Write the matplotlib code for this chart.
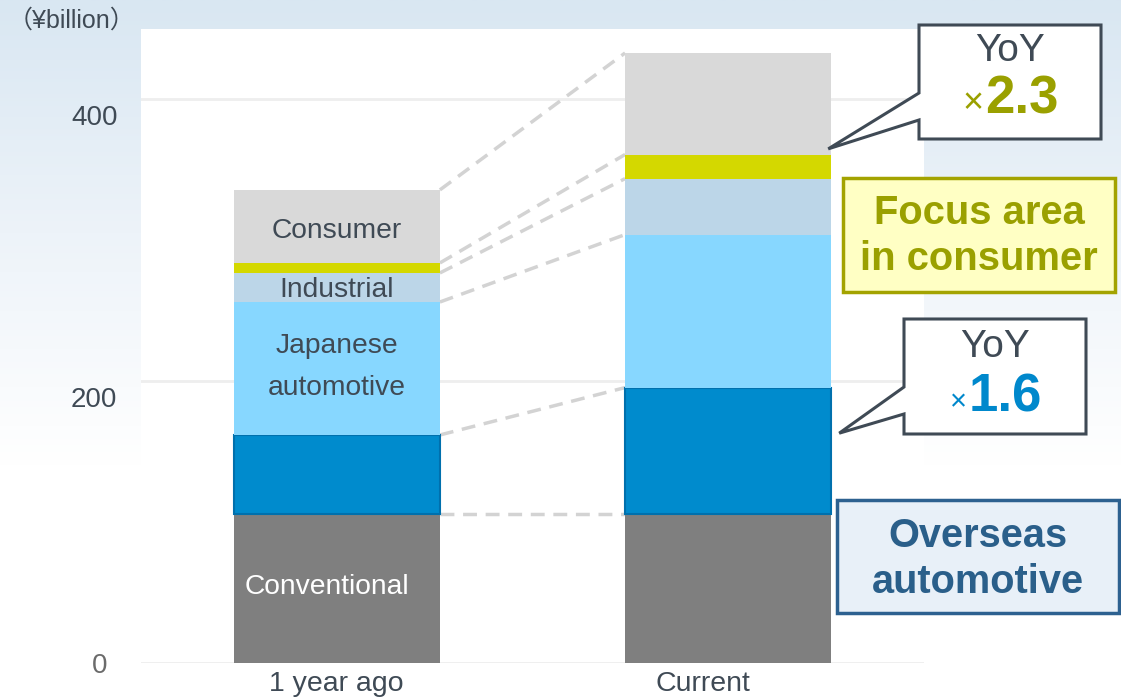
import numpy as np
import matplotlib.pyplot as plt
import matplotlib.transforms as mtransforms
from matplotlib.patches import Polygon, Rectangle
from matplotlib.colors import LinearSegmentedColormap

# values in ¥billion, stacked from the bottom
categories = ['1 year ago', 'Current']
conventional = [105.5, 105.5]
overseas = [56.2, 89.8]
japanese = [94.3, 108.5]
industrial = [20.6, 39.7]
focus = [7.1, 17.1]
consumer = [51.8, 72.0]

segments = [
    ('Conventional', conventional, '#7f7f7f'),
    ('Overseas automotive', overseas, '#008bcd'),
    ('Japanese automotive', japanese, '#87d7ff'),
    ('Industrial', industrial, '#bcd6e8'),
    ('Focus area', focus, '#d4d800'),
    ('Consumer', consumer, '#d9d9d9'),
]

plt.rcParams['font.family'] = ['Liberation Sans', 'Noto Sans CJK JP', 'DejaVu Sans']
TXT = '#3f4a55'
OLIVE = '#9aa000'
BLUE = '#0088cc'

W, H = 1121, 698
fig = plt.figure(figsize=(W / 100, H / 100), dpi=100)

# soft blue backdrop fading to white
bg = fig.add_axes([0, 0, 1, 1], zorder=-2)
grad = np.linspace(0, 1, 256).reshape(-1, 1)
cmap = LinearSegmentedColormap.from_list('bg', ['#d9e7f2', '#edf3f9', '#ffffff', '#ffffff'])
bg.imshow(grad, aspect='auto', cmap=cmap, extent=[0, 1, 0, 1], origin='upper')
bg.axis('off')

ax = fig.add_axes([141 / W, 35 / H, 783 / W, 634 / H])
ax.set_facecolor('white')
x = np.arange(len(categories))
width = 0.527

bottoms = np.zeros(len(categories))
tops = []
for name, vals, col in segments:
    vals = np.array(vals)
    if name == 'Overseas automotive':
        ax.bar(x, vals, width, bottom=bottoms, color=col, edgecolor='#0070ad', linewidth=1.5, zorder=3)
    else:
        ax.bar(x, vals, width, bottom=bottoms, color=col, linewidth=0, zorder=3)
    bottoms = bottoms + vals
    tops.append(bottoms.copy())

# dashed connectors between matching segment tops
for t in tops:
    ax.plot([x[0] + width / 2, x[1] - width / 2], [t[0], t[1]],
            ls=(0, (4, 2.5)), color='#d3d3d3', lw=2.5, zorder=2)

ax.set_xlim(-0.5, 1.5)
ax.set_ylim(0, 449.6)
ax.set_yticks([0, 200, 400])
ax.set_yticklabels(['0', '200', '400'], fontsize=20, color=TXT)
ax.set_xticks(x)
ax.set_xticklabels(categories, fontsize=20.5, color=TXT)
ax.tick_params(axis='both', length=0)
ax.tick_params(axis='y', pad=17)
ax.tick_params(axis='x', pad=6)
ax.grid(axis='y', color='#eeeeee', lw=2, zorder=0)
for s in ax.spines.values():
    s.set_visible(False)

ylabels = ax.get_yticklabels()
ylabels[0].set_color('#6b6b6b')
ylabels[0].set_transform(ylabels[0].get_transform() +
                         mtransforms.ScaledTranslation(-0.10, 0, fig.dpi_scale_trans))
for lab in ylabels[1:]:
    lab.set_transform(lab.get_transform() +
                      mtransforms.ScaledTranslation(0, -0.16, fig.dpi_scale_trans))
xlab = ax.get_xticklabels()[1]
xlab.set_transform(xlab.get_transform() +
                   mtransforms.ScaledTranslation(-0.25, 0, fig.dpi_scale_trans))

# segment names inside the older bar
cum0 = [t[0] for t in tops]
ax.text(x[0], 306, 'Consumer', ha='center', va='center', fontsize=20.3, color=TXT, zorder=4)
ax.text(x[0], (cum0[2] + cum0[3]) / 2 - 1.5, 'Industrial', ha='center', va='center', fontsize=20.3,
        color=TXT, zorder=4)
ax.text(x[0], 210, 'Japanese\nautomotive', ha='center', va='center', fontsize=20.3, color=TXT,
        linespacing=1.83, zorder=4)
ax.text(x[0] - 0.025, 54, 'Conventional', ha='center', va='center', fontsize=20.3, color='white', zorder=4)

fig.text(8 / W, 1 - 21 / H, '（¥billion）', ha='left', va='center', fontsize=18, color=TXT)

# overlay in pixel units for callouts
ov = fig.add_axes([0, 0, 1, 1], zorder=5)
ov.set_xlim(0, W)
ov.set_ylim(H, 0)
ov.axis('off')
ov.patch.set_alpha(0)


def to_px(xd, yd):
    px, py = ax.transData.transform((xd, yd))
    return px, H - py


def callout(x0, y0, x1, y1, n0, n1, tip):
    pts = [(x0, y0), (x1, y0), (x1, y1), (x0, y1), (x0, n1), tip, (x0, n0)]
    ov.add_patch(Polygon(pts, closed=True, facecolor='white', edgecolor=TXT, lw=2.2, joinstyle='miter'))


tip1 = to_px(x[1] + width / 2 - 0.008, tops[4][1] + 4)
callout(919, 25, 1101, 139, 93, 120, tip1)
ov.text(1010, 51, 'YoY', ha='center', va='center', fontsize=28, color=TXT)
ov.text(973, 104, '×', ha='center', va='center', fontsize=26, color=OLIVE)
ov.text(1022, 100, '2.3', ha='center', va='center', fontsize=38, color=OLIVE, fontweight='bold')

tip2 = to_px(x[1] + width / 2 + 0.02, tops[0][1] + overseas[1] * 0.64)
callout(904, 319, 1086, 434, 387, 414, tip2)
ov.text(995, 347, 'YoY', ha='center', va='center', fontsize=28, color=TXT)
ov.text(958, 402, '×', ha='center', va='center', fontsize=21, color=BLUE)
ov.text(1005, 398, '1.6', ha='center', va='center', fontsize=38, color=BLUE, fontweight='bold')

ov.add_patch(Rectangle((843, 178), 272, 114, facecolor='#ffffc4', edgecolor='#a3a300', lw=2.5))
ov.text(979, 236, 'Focus area\nin consumer', ha='center', va='center', fontsize=28.8,
        color=OLIVE, fontweight='bold', linespacing=1.29)

ov.add_patch(Rectangle((837, 500), 282, 113, facecolor='#e8f0f8', edgecolor='#2d6190', lw=2.5))
ov.text(978, 559, 'Overseas\nautomotive', ha='center', va='center', fontsize=28.6,
        color='#2a5f8a', fontweight='bold', linespacing=1.29)

fig.savefig('out.png', dpi=100)
